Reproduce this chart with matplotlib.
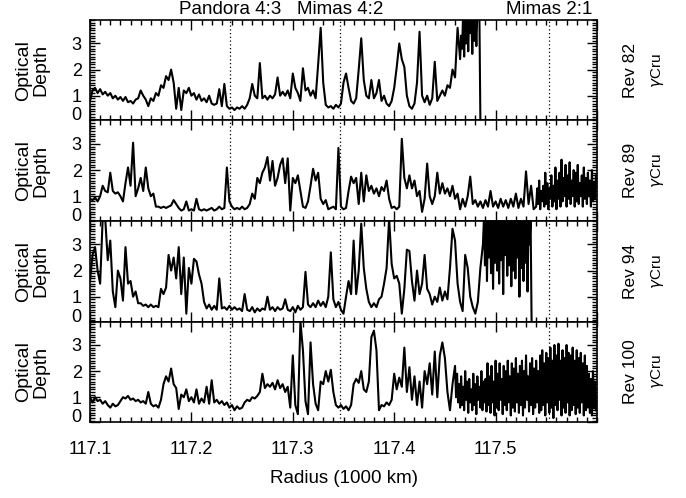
import numpy as np
import matplotlib.pyplot as plt
from matplotlib.ticker import MultipleLocator

plt.rcParams['font.family'] = ['Liberation Sans', 'DejaVu Sans']

# Radius sampling (1000 km): a coarse part every 2.5 km from 117.1,
# then a fine part every 1 km where the profiles get noisy
r0 = 117.1
dr_coarse = 0.0025
dr_fine = 0.001

# Optical depth
rev82_tau = [
    0.8, 1.2, 1.3, 1.1, 1.25, 1.05, 1.15, 1.0, 1.1, 0.9,
    1.0, 0.85, 0.95, 0.8, 0.95, 0.75, 0.8, 0.7, 0.85, 0.9,
    1.2, 1.0, 0.85, 0.6, 0.9, 0.8, 1.1, 1.0, 1.4, 1.3,
    1.75, 1.6, 2.0, 1.5, 0.5, 1.3, 0.45, 1.2, 1.1, 1.3,
    1.0, 1.1, 0.85, 1.05, 0.8, 0.9, 0.75, 1.0, 0.7, 0.65,
    0.7, 1.25, 0.6, 1.45, 0.6, 0.5, 0.55, 0.45, 0.55, 0.5,
    0.6, 0.5, 0.65, 0.9, 1.45, 1.0, 0.9, 2.25, 0.9, 1.0,
    0.85, 1.0, 0.9, 1.05, 1.7, 1.0, 1.15, 1.0, 1.2, 0.9,
    1.85, 1.3, 1.1, 0.8, 2.05, 1.2, 1.3, 1.0, 1.2, 0.9,
    2.2, 3.6, 1.5, 0.65, 0.55, 0.6, 0.5, 0.65, 0.55, 0.7,
    1.5, 1.85, 1.3, 0.8, 0.7, 0.9, 2.0, 3.2, 1.6, 1.0,
    0.9, 1.6, 0.9, 1.1, 1.6, 0.8, 1.0, 0.7, 0.6, 0.8,
    1.3, 2.1, 3.0, 2.4, 2.1, 1.0, 0.6, 0.5, 0.7, 1.5,
    3.45, 1.0, 0.75, 1.0, 0.65, 0.9, 2.3, 0.8, 1.0, 1.2,
    1.0, 1.4, 1.3, 2.0, 1.7, 3.6,
]
rev82_fine_start = 117.465
rev82_fine = [
    2.4, 3.3, 2.8, 4.2, 2.5, 4.2, 3.0, 4.2, 2.7, 4.2,
    3.4, 4.2, 2.6, 4.2, 3.1, 4.2, 2.9, 4.2, 4.2, 4.2,
    0.0,
]

rev89_tau = [
    0.9, 0.85, 0.95, 0.8, 1.0, 1.4, 1.2, 1.15, 1.9, 1.2,
    1.1, 1.15, 1.0, 0.8, 1.5, 2.1, 1.4, 3.05, 1.0, 1.3,
    1.7, 1.2, 2.1, 1.3, 1.0, 1.1, 0.6, 0.6, 0.55, 0.6,
    0.55, 0.6, 0.65, 0.85, 0.7, 0.55, 0.45, 0.5, 0.8, 0.45,
    0.5, 0.45, 0.9, 0.5, 0.45, 0.5, 0.45, 0.5, 0.55, 0.45,
    0.5, 0.6, 0.5, 0.55, 2.1, 0.8, 0.6, 0.5, 0.55, 0.5,
    0.6, 0.5, 0.55, 0.7, 1.1, 0.9, 1.7, 1.5, 1.9, 2.1,
    2.5, 1.6, 2.35, 1.4, 1.7, 2.2, 2.45, 1.5, 2.45, 0.45,
    1.7, 1.5, 1.8, 1.2, 0.6, 0.55, 0.8, 1.4, 2.05, 1.6,
    1.9, 0.9, 0.7, 0.85, 0.5, 0.55, 0.6, 0.5, 2.85, 0.6,
    0.5, 0.55, 1.2, 1.75, 1.5, 1.7, 0.7, 1.9, 0.8, 1.8,
    1.2, 1.4, 1.1, 1.3, 1.0, 1.35, 1.2, 1.6, 0.9, 0.55,
    0.6, 0.5, 0.6, 3.2, 1.7, 1.3, 1.8, 1.3, 1.6, 1.0,
    1.2, 0.4, 0.9, 2.25, 1.0, 0.7, 1.0, 1.9, 1.1, 1.5,
    1.1, 1.3, 1.0, 1.4, 0.9, 1.1, 0.5, 0.9, 0.6, 1.0,
    1.75, 0.7, 0.85, 0.6, 0.8, 0.55, 0.85, 0.6, 1.2, 0.6,
    0.8, 0.55, 0.9, 0.6, 0.85, 0.55, 0.9, 0.6, 1.1, 0.55,
    0.9, 0.6, 1.95, 0.7, 1.4, 0.5,
]
rev89_fine_start = 117.54
rev89_fine = [
    0.6, 1.3, 0.7, 1.6, 0.5, 1.2, 0.8, 1.4, 0.6, 1.9,
    0.7, 1.5, 0.5, 1.3, 0.9, 1.8, 0.6, 1.4, 0.8, 2.1,
    0.5, 1.6, 0.9, 1.9, 0.6, 2.4, 0.8, 1.7, 1.0, 2.2,
    0.6, 1.8, 0.9, 2.3, 0.7, 1.6, 1.0, 2.0, 0.6, 1.9,
    0.8, 2.2, 0.7, 1.5, 1.0, 1.8, 0.6, 2.1, 0.9, 1.7,
    0.7, 1.9, 1.0, 1.6, 0.6, 2.0, 0.8, 1.5, 0.9, 1.8,
]

rev94_tau = [
    1.6, 2.6, 2.9, 2.0, 1.5, 4.0, 4.0, 2.4, 3.15, 1.2,
    0.6, 2.0, 1.7, 0.85, 2.9, 1.5, 1.6, 1.0, 1.2, 0.75,
    0.75, 0.65, 0.7, 0.6, 0.7, 0.6, 0.65, 0.6, 1.3, 1.1,
    1.35, 2.6, 2.0, 2.5, 1.7, 2.9, 1.1, 2.5, 0.35, 2.1,
    1.5, 2.45, 2.35, 1.85, 1.5, 0.8, 0.55, 0.7, 0.5, 0.65,
    0.5, 1.7, 0.55, 0.6, 0.5, 0.65, 0.5, 0.6, 0.5, 0.55,
    0.45, 1.1, 0.5, 0.45, 0.6, 0.4, 0.55, 0.45, 0.55, 0.5,
    1.0, 0.5, 0.6, 0.45, 0.6, 0.5, 0.55, 0.9, 0.5, 0.45,
    0.6, 0.4, 0.65, 0.5, 0.6, 1.95, 0.7, 0.6, 0.75, 0.6,
    0.85, 0.65, 0.8, 0.6, 1.0, 2.7, 0.9, 0.6, 0.8, 0.5,
    0.35, 1.0, 1.6, 1.1, 3.15, 1.1, 2.0, 3.8, 2.1, 1.3,
    0.8, 0.6, 0.75, 0.6, 0.9, 1.0, 1.5, 2.1, 4.0, 2.25,
    1.7, 1.8, 1.5, 0.35, 1.3, 2.8, 2.75, 1.6, 0.85, 2.0,
    1.1, 1.5, 2.6, 1.3, 1.1, 0.7, 1.0, 0.8, 1.35, 0.85,
    1.2, 0.9, 2.1, 3.6, 3.15, 1.5, 0.8, 0.45, 2.6, 2.1,
    1.0, 0.6, 0.35, 0.8, 2.1,
]
rev94_fine_start = 117.4875
rev94_fine = [
    3.0, 4.0, 2.2, 4.0, 1.6, 4.0, 2.5, 4.0, 1.9, 4.0,
    1.3, 4.0, 2.3, 4.0, 2.0, 4.0, 1.5, 4.0, 2.4, 4.0,
    1.1, 4.0, 2.6, 4.0, 1.8, 4.0, 2.2, 4.0, 1.4, 4.0,
    2.0, 4.0, 1.7, 4.0, 2.5, 4.0, 1.0, 4.0, 2.1, 4.0,
    1.6, 4.0, 2.3, 4.0, 1.2, 4.0, 3.0, 4.0, 0.0,
]

rev100_tau = [
    1.0, 0.8, 1.0, 0.85, 0.9, 0.75, 0.85, 0.7, 0.6, 0.75,
    0.65, 0.7, 0.85, 1.0, 0.95, 1.05, 0.9, 0.95, 0.85, 0.9,
    0.8, 0.85, 0.75, 1.2, 0.75, 0.65, 0.7, 0.6, 0.9, 1.5,
    1.8, 1.6, 2.1, 1.5, 1.35, 0.55, 1.1, 1.0, 1.3, 0.85,
    1.0, 0.8, 1.3, 0.75, 0.95, 0.8, 1.4, 0.75, 1.65, 0.8,
    0.9, 0.75, 0.85, 0.7, 0.8, 0.6, 0.7, 0.5, 0.65, 0.55,
    0.6, 0.8, 0.9, 0.85, 1.0, 0.95, 1.05, 1.2, 1.9, 1.35,
    1.5, 1.4, 1.55, 1.3, 1.65, 1.35, 1.5, 1.2, 1.4, 0.6,
    2.6, 0.7, 0.35, 3.9, 2.8, 0.85, 0.35, 3.1, 1.5, 0.75,
    0.5, 1.6, 1.5, 2.0, 1.6, 2.05, 1.2, 0.7, 0.6, 0.7,
    0.55, 0.65, 0.5, 0.7, 1.5, 1.7, 1.55, 2.0, 1.3, 1.2,
    1.6, 3.3, 3.55, 2.8, 0.5, 0.7, 0.65, 0.8, 0.7, 0.9,
    1.9, 1.3, 1.75, 1.4, 2.9, 1.2, 2.15, 0.9, 1.8, 0.7,
    1.6, 0.6, 2.0, 1.5, 2.3, 1.1, 2.75, 1.0, 2.6, 3.1,
    2.5, 1.2, 0.5, 1.5,
]
rev100_fine_start = 117.46
rev100_fine = [
    2.2, 1.0, 1.9, 0.8, 1.5, 0.6,
    1.8, 0.7, 1.4, 0.5, 2.0, 0.9, 1.6, 0.4, 1.7, 0.8,
    1.3, 0.5, 1.9, 0.7, 1.5, 0.35, 1.8, 0.9, 1.4, 0.6,
    2.0, 0.5, 1.6, 0.8, 1.7, 0.45,
    2.3, 0.7, 1.8, 0.4, 2.2, 0.8, 1.6, 0.3, 2.4, 0.6,
    1.9, 0.5, 2.3, 0.9, 1.7, 0.35, 2.2, 0.7, 2.0, 0.5,
    2.4, 0.8, 1.8, 0.3, 2.3, 0.6, 2.1, 0.45, 2.5, 0.8,
    1.9, 0.4, 2.2, 0.7, 2.4, 0.3, 2.0, 0.6, 2.6, 0.9,
    1.8, 0.45, 2.3, 0.7, 2.5, 0.35, 2.1, 0.6, 2.4, 0.8,
    2.0, 0.4, 2.6,
    0.5, 2.8, 0.7, 2.3, 0.3, 2.7, 0.8, 2.5, 0.4, 2.9,
    0.6, 2.4, 0.2, 3.0, 0.7, 2.6, 0.5, 3.05, 0.9, 2.4,
    0.3, 2.8, 0.6, 2.5, 0.4, 3.0, 0.8, 2.7, 0.3, 2.6,
    0.5, 2.9, 0.7, 2.4, 0.35, 2.8, 0.6, 2.5, 0.4, 2.7,
    0.8, 2.3, 0.3, 2.6, 0.5, 2.2, 0.6,
    1.9, 0.4, 1.7, 0.3, 2.0, 0.6, 1.6, 0.5,
]

profiles = [
    (rev82_tau, rev82_fine_start, rev82_fine),
    (rev89_tau, rev89_fine_start, rev89_fine),
    (rev94_tau, rev94_fine_start, rev94_fine),
    (rev100_tau, rev100_fine_start, rev100_fine),
]
rev_labels = ['Rev 82', 'Rev 89', 'Rev 94', 'Rev 100']
star = r'$\gamma$Cru'

# Resonance locations (1000 km) and their names
res_r = [117.2377, 117.3467, 117.5525]
res_names = ['Pandora 4:3', 'Mimas 4:2', 'Mimas 2:1']

W, H = 686, 498
fig = plt.figure(figsize=(W / 100, H / 100), dpi=100)

left, right = 90, 597
top, panel_h = 20, 100.5

axes = []
for k, (coarse, fine_start, fine) in enumerate(profiles):
    y_top = top + k * panel_h
    ax = fig.add_axes([left / W, 1 - (y_top + panel_h) / H,
                       (right - left) / W, panel_h / H])
    axes.append(ax)
    r = np.concatenate([r0 + dr_coarse * np.arange(len(coarse)),
                        fine_start + dr_fine * np.arange(len(fine))])
    tau = np.concatenate([coarse, fine])
    ax.plot(r, tau, color='black', lw=1.5)
    for rr in res_r:
        ax.axvline(rr, color='black', lw=0.9, ls=(0, (1, 2)))
    ax.set_xlim(117.1, 117.6)
    ax.set_ylim(0.05, 3.9)
    ax.set_yticks([0.05, 1, 2, 3])
    ax.set_yticklabels(['0', '1', '2', '3'])
    # the zero label sits on the panel's lower edge, as in the original
    ax.get_yticklabels()[0].set_va('baseline')
    ax.yaxis.set_minor_locator(MultipleLocator(0.1))
    ax.xaxis.set_major_locator(MultipleLocator(0.1))
    ax.xaxis.set_minor_locator(MultipleLocator(0.01))
    ax.tick_params(which='both', direction='in', top=True, right=True,
                   labelsize=13, width=1)
    ax.tick_params(which='major', length=7)
    ax.tick_params(which='minor', length=3.5)
    ax.tick_params(axis='y', pad=6)
    ax.tick_params(axis='x', pad=14)
    for s in ax.spines.values():
        s.set_linewidth(1.2)
    ax.text(-0.114, 0.5, 'Optical\nDepth', transform=ax.transAxes,
            rotation=90, ha='center', va='center', fontsize=14,
            linespacing=1.05)
    ax.text(1.067, 0.5, rev_labels[k], transform=ax.transAxes, rotation=90,
            ha='center', va='center', fontsize=12.5)
    ax.text(1.12, 0.5, star, transform=ax.transAxes, rotation=90,
            ha='center', va='center', fontsize=11)
    if k < 3:
        ax.tick_params(axis='x', labelbottom=False)

for rr, name in zip(res_r, res_names):
    axes[0].annotate(name, xy=(rr, 1.0), xycoords=('data', 'axes fraction'),
                     xytext=(0, 4.5), textcoords='offset points',
                     ha='center', va='baseline', fontsize=13.5)

axes[-1].set_xticks([117.1, 117.2, 117.3, 117.4, 117.5])
axes[-1].set_xticklabels(['117.1', '117.2', '117.3', '117.4', '117.5'])
axes[-1].set_xlabel('Radius (1000 km)', fontsize=13.5, labelpad=8)

fig.savefig('out.png', dpi=100)
